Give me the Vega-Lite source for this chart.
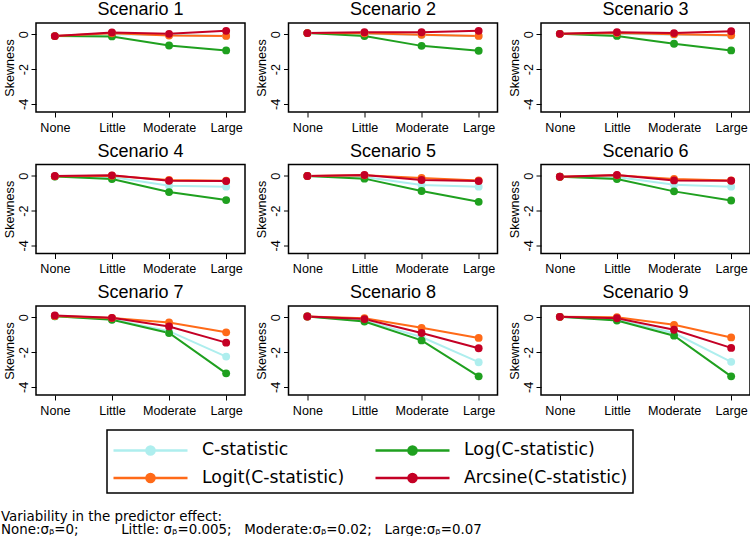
{
  "$schema": "https://vega.github.io/schema/vega-lite/v6.json",
  "padding": {"left": 1, "top": 0, "right": 0, "bottom": 0},
  "background": "white",
  "data": {"values": [
    {"scenario": "Scenario 1", "level": "None", "method": "C-statistic", "value": -0.11},
    {"scenario": "Scenario 1", "level": "Little", "method": "C-statistic", "value": 0.0},
    {"scenario": "Scenario 1", "level": "Moderate", "method": "C-statistic", "value": -0.05},
    {"scenario": "Scenario 1", "level": "Large", "method": "C-statistic", "value": -0.1},
    {"scenario": "Scenario 1", "level": "None", "method": "Log(C-statistic)", "value": -0.11},
    {"scenario": "Scenario 1", "level": "Little", "method": "Log(C-statistic)", "value": -0.13},
    {"scenario": "Scenario 1", "level": "Moderate", "method": "Log(C-statistic)", "value": -0.65},
    {"scenario": "Scenario 1", "level": "Large", "method": "Log(C-statistic)", "value": -0.93},
    {"scenario": "Scenario 1", "level": "None", "method": "Logit(C-statistic)", "value": -0.11},
    {"scenario": "Scenario 1", "level": "Little", "method": "Logit(C-statistic)", "value": 0.05},
    {"scenario": "Scenario 1", "level": "Moderate", "method": "Logit(C-statistic)", "value": -0.08},
    {"scenario": "Scenario 1", "level": "Large", "method": "Logit(C-statistic)", "value": -0.1},
    {"scenario": "Scenario 1", "level": "None", "method": "Arcsine(C-statistic)", "value": -0.11},
    {"scenario": "Scenario 1", "level": "Little", "method": "Arcsine(C-statistic)", "value": 0.1},
    {"scenario": "Scenario 1", "level": "Moderate", "method": "Arcsine(C-statistic)", "value": 0.02},
    {"scenario": "Scenario 1", "level": "Large", "method": "Arcsine(C-statistic)", "value": 0.19},

    {"scenario": "Scenario 2", "level": "None", "method": "C-statistic", "value": 0.06},
    {"scenario": "Scenario 2", "level": "Little", "method": "C-statistic", "value": 0.03},
    {"scenario": "Scenario 2", "level": "Moderate", "method": "C-statistic", "value": -0.05},
    {"scenario": "Scenario 2", "level": "Large", "method": "C-statistic", "value": -0.1},
    {"scenario": "Scenario 2", "level": "None", "method": "Log(C-statistic)", "value": 0.06},
    {"scenario": "Scenario 2", "level": "Little", "method": "Log(C-statistic)", "value": -0.11},
    {"scenario": "Scenario 2", "level": "Moderate", "method": "Log(C-statistic)", "value": -0.67},
    {"scenario": "Scenario 2", "level": "Large", "method": "Log(C-statistic)", "value": -0.95},
    {"scenario": "Scenario 2", "level": "None", "method": "Logit(C-statistic)", "value": 0.06},
    {"scenario": "Scenario 2", "level": "Little", "method": "Logit(C-statistic)", "value": 0.05},
    {"scenario": "Scenario 2", "level": "Moderate", "method": "Logit(C-statistic)", "value": -0.03},
    {"scenario": "Scenario 2", "level": "Large", "method": "Logit(C-statistic)", "value": -0.1},
    {"scenario": "Scenario 2", "level": "None", "method": "Arcsine(C-statistic)", "value": 0.06},
    {"scenario": "Scenario 2", "level": "Little", "method": "Arcsine(C-statistic)", "value": 0.11},
    {"scenario": "Scenario 2", "level": "Moderate", "method": "Arcsine(C-statistic)", "value": 0.11},
    {"scenario": "Scenario 2", "level": "Large", "method": "Arcsine(C-statistic)", "value": 0.19},

    {"scenario": "Scenario 3", "level": "None", "method": "C-statistic", "value": 0.02},
    {"scenario": "Scenario 3", "level": "Little", "method": "C-statistic", "value": 0.03},
    {"scenario": "Scenario 3", "level": "Moderate", "method": "C-statistic", "value": -0.03},
    {"scenario": "Scenario 3", "level": "Large", "method": "C-statistic", "value": -0.08},
    {"scenario": "Scenario 3", "level": "None", "method": "Log(C-statistic)", "value": 0.02},
    {"scenario": "Scenario 3", "level": "Little", "method": "Log(C-statistic)", "value": -0.1},
    {"scenario": "Scenario 3", "level": "Moderate", "method": "Log(C-statistic)", "value": -0.55},
    {"scenario": "Scenario 3", "level": "Large", "method": "Log(C-statistic)", "value": -0.93},
    {"scenario": "Scenario 3", "level": "None", "method": "Logit(C-statistic)", "value": 0.02},
    {"scenario": "Scenario 3", "level": "Little", "method": "Logit(C-statistic)", "value": 0.06},
    {"scenario": "Scenario 3", "level": "Moderate", "method": "Logit(C-statistic)", "value": 0.0},
    {"scenario": "Scenario 3", "level": "Large", "method": "Logit(C-statistic)", "value": -0.06},
    {"scenario": "Scenario 3", "level": "None", "method": "Arcsine(C-statistic)", "value": 0.02},
    {"scenario": "Scenario 3", "level": "Little", "method": "Arcsine(C-statistic)", "value": 0.11},
    {"scenario": "Scenario 3", "level": "Moderate", "method": "Arcsine(C-statistic)", "value": 0.06},
    {"scenario": "Scenario 3", "level": "Large", "method": "Arcsine(C-statistic)", "value": 0.17},

    {"scenario": "Scenario 4", "level": "None", "method": "C-statistic", "value": -0.05},
    {"scenario": "Scenario 4", "level": "Little", "method": "C-statistic", "value": -0.08},
    {"scenario": "Scenario 4", "level": "Moderate", "method": "C-statistic", "value": -0.58},
    {"scenario": "Scenario 4", "level": "Large", "method": "C-statistic", "value": -0.63},
    {"scenario": "Scenario 4", "level": "None", "method": "Log(C-statistic)", "value": -0.05},
    {"scenario": "Scenario 4", "level": "Little", "method": "Log(C-statistic)", "value": -0.19},
    {"scenario": "Scenario 4", "level": "Moderate", "method": "Log(C-statistic)", "value": -0.94},
    {"scenario": "Scenario 4", "level": "Large", "method": "Log(C-statistic)", "value": -1.4},
    {"scenario": "Scenario 4", "level": "None", "method": "Logit(C-statistic)", "value": -0.04},
    {"scenario": "Scenario 4", "level": "Little", "method": "Logit(C-statistic)", "value": 0.0},
    {"scenario": "Scenario 4", "level": "Moderate", "method": "Logit(C-statistic)", "value": -0.25},
    {"scenario": "Scenario 4", "level": "Large", "method": "Logit(C-statistic)", "value": -0.29},
    {"scenario": "Scenario 4", "level": "None", "method": "Arcsine(C-statistic)", "value": -0.02},
    {"scenario": "Scenario 4", "level": "Little", "method": "Arcsine(C-statistic)", "value": 0.02},
    {"scenario": "Scenario 4", "level": "Moderate", "method": "Arcsine(C-statistic)", "value": -0.29},
    {"scenario": "Scenario 4", "level": "Large", "method": "Arcsine(C-statistic)", "value": -0.31},

    {"scenario": "Scenario 5", "level": "None", "method": "C-statistic", "value": -0.02},
    {"scenario": "Scenario 5", "level": "Little", "method": "C-statistic", "value": -0.07},
    {"scenario": "Scenario 5", "level": "Moderate", "method": "C-statistic", "value": -0.54},
    {"scenario": "Scenario 5", "level": "Large", "method": "C-statistic", "value": -0.63},
    {"scenario": "Scenario 5", "level": "None", "method": "Log(C-statistic)", "value": -0.02},
    {"scenario": "Scenario 5", "level": "Little", "method": "Log(C-statistic)", "value": -0.17},
    {"scenario": "Scenario 5", "level": "Moderate", "method": "Log(C-statistic)", "value": -0.88},
    {"scenario": "Scenario 5", "level": "Large", "method": "Log(C-statistic)", "value": -1.5},
    {"scenario": "Scenario 5", "level": "None", "method": "Logit(C-statistic)", "value": -0.02},
    {"scenario": "Scenario 5", "level": "Little", "method": "Logit(C-statistic)", "value": 0.02},
    {"scenario": "Scenario 5", "level": "Moderate", "method": "Logit(C-statistic)", "value": -0.13},
    {"scenario": "Scenario 5", "level": "Large", "method": "Logit(C-statistic)", "value": -0.27},
    {"scenario": "Scenario 5", "level": "None", "method": "Arcsine(C-statistic)", "value": -0.02},
    {"scenario": "Scenario 5", "level": "Little", "method": "Arcsine(C-statistic)", "value": 0.04},
    {"scenario": "Scenario 5", "level": "Moderate", "method": "Arcsine(C-statistic)", "value": -0.25},
    {"scenario": "Scenario 5", "level": "Large", "method": "Arcsine(C-statistic)", "value": -0.31},

    {"scenario": "Scenario 6", "level": "None", "method": "C-statistic", "value": -0.06},
    {"scenario": "Scenario 6", "level": "Little", "method": "C-statistic", "value": -0.07},
    {"scenario": "Scenario 6", "level": "Moderate", "method": "C-statistic", "value": -0.52},
    {"scenario": "Scenario 6", "level": "Large", "method": "C-statistic", "value": -0.63},
    {"scenario": "Scenario 6", "level": "None", "method": "Log(C-statistic)", "value": -0.06},
    {"scenario": "Scenario 6", "level": "Little", "method": "Log(C-statistic)", "value": -0.19},
    {"scenario": "Scenario 6", "level": "Moderate", "method": "Log(C-statistic)", "value": -0.9},
    {"scenario": "Scenario 6", "level": "Large", "method": "Log(C-statistic)", "value": -1.42},
    {"scenario": "Scenario 6", "level": "None", "method": "Logit(C-statistic)", "value": -0.06},
    {"scenario": "Scenario 6", "level": "Little", "method": "Logit(C-statistic)", "value": 0.02},
    {"scenario": "Scenario 6", "level": "Moderate", "method": "Logit(C-statistic)", "value": -0.19},
    {"scenario": "Scenario 6", "level": "Large", "method": "Logit(C-statistic)", "value": -0.27},
    {"scenario": "Scenario 6", "level": "None", "method": "Arcsine(C-statistic)", "value": -0.06},
    {"scenario": "Scenario 6", "level": "Little", "method": "Arcsine(C-statistic)", "value": 0.04},
    {"scenario": "Scenario 6", "level": "Moderate", "method": "Arcsine(C-statistic)", "value": -0.27},
    {"scenario": "Scenario 6", "level": "Large", "method": "Arcsine(C-statistic)", "value": -0.29},

    {"scenario": "Scenario 7", "level": "None", "method": "C-statistic", "value": 0.05},
    {"scenario": "Scenario 7", "level": "Little", "method": "C-statistic", "value": -0.12},
    {"scenario": "Scenario 7", "level": "Moderate", "method": "C-statistic", "value": -0.8},
    {"scenario": "Scenario 7", "level": "Large", "method": "C-statistic", "value": -2.26},
    {"scenario": "Scenario 7", "level": "None", "method": "Log(C-statistic)", "value": 0.05},
    {"scenario": "Scenario 7", "level": "Little", "method": "Log(C-statistic)", "value": -0.15},
    {"scenario": "Scenario 7", "level": "Moderate", "method": "Log(C-statistic)", "value": -0.91},
    {"scenario": "Scenario 7", "level": "Large", "method": "Log(C-statistic)", "value": -3.22},
    {"scenario": "Scenario 7", "level": "None", "method": "Logit(C-statistic)", "value": 0.06},
    {"scenario": "Scenario 7", "level": "Little", "method": "Logit(C-statistic)", "value": -0.05},
    {"scenario": "Scenario 7", "level": "Moderate", "method": "Logit(C-statistic)", "value": -0.3},
    {"scenario": "Scenario 7", "level": "Large", "method": "Logit(C-statistic)", "value": -0.87},
    {"scenario": "Scenario 7", "level": "None", "method": "Arcsine(C-statistic)", "value": 0.1},
    {"scenario": "Scenario 7", "level": "Little", "method": "Arcsine(C-statistic)", "value": -0.04},
    {"scenario": "Scenario 7", "level": "Moderate", "method": "Arcsine(C-statistic)", "value": -0.53},
    {"scenario": "Scenario 7", "level": "Large", "method": "Arcsine(C-statistic)", "value": -1.46},

    {"scenario": "Scenario 8", "level": "None", "method": "C-statistic", "value": 0.04},
    {"scenario": "Scenario 8", "level": "Little", "method": "C-statistic", "value": -0.2},
    {"scenario": "Scenario 8", "level": "Moderate", "method": "C-statistic", "value": -1.14},
    {"scenario": "Scenario 8", "level": "Large", "method": "C-statistic", "value": -2.58},
    {"scenario": "Scenario 8", "level": "None", "method": "Log(C-statistic)", "value": 0.04},
    {"scenario": "Scenario 8", "level": "Little", "method": "Log(C-statistic)", "value": -0.25},
    {"scenario": "Scenario 8", "level": "Moderate", "method": "Log(C-statistic)", "value": -1.33},
    {"scenario": "Scenario 8", "level": "Large", "method": "Log(C-statistic)", "value": -3.39},
    {"scenario": "Scenario 8", "level": "None", "method": "Logit(C-statistic)", "value": 0.04},
    {"scenario": "Scenario 8", "level": "Little", "method": "Logit(C-statistic)", "value": -0.06},
    {"scenario": "Scenario 8", "level": "Moderate", "method": "Logit(C-statistic)", "value": -0.61},
    {"scenario": "Scenario 8", "level": "Large", "method": "Logit(C-statistic)", "value": -1.19},
    {"scenario": "Scenario 8", "level": "None", "method": "Arcsine(C-statistic)", "value": 0.04},
    {"scenario": "Scenario 8", "level": "Little", "method": "Arcsine(C-statistic)", "value": -0.11},
    {"scenario": "Scenario 8", "level": "Moderate", "method": "Arcsine(C-statistic)", "value": -0.91},
    {"scenario": "Scenario 8", "level": "Large", "method": "Arcsine(C-statistic)", "value": -1.78},

    {"scenario": "Scenario 9", "level": "None", "method": "C-statistic", "value": 0.02},
    {"scenario": "Scenario 9", "level": "Little", "method": "C-statistic", "value": -0.15},
    {"scenario": "Scenario 9", "level": "Moderate", "method": "C-statistic", "value": -0.91},
    {"scenario": "Scenario 9", "level": "Large", "method": "C-statistic", "value": -2.56},
    {"scenario": "Scenario 9", "level": "None", "method": "Log(C-statistic)", "value": 0.02},
    {"scenario": "Scenario 9", "level": "Little", "method": "Log(C-statistic)", "value": -0.19},
    {"scenario": "Scenario 9", "level": "Moderate", "method": "Log(C-statistic)", "value": -1.06},
    {"scenario": "Scenario 9", "level": "Large", "method": "Log(C-statistic)", "value": -3.39},
    {"scenario": "Scenario 9", "level": "None", "method": "Logit(C-statistic)", "value": 0.02},
    {"scenario": "Scenario 9", "level": "Little", "method": "Logit(C-statistic)", "value": 0.0},
    {"scenario": "Scenario 9", "level": "Moderate", "method": "Logit(C-statistic)", "value": -0.44},
    {"scenario": "Scenario 9", "level": "Large", "method": "Logit(C-statistic)", "value": -1.16},
    {"scenario": "Scenario 9", "level": "None", "method": "Arcsine(C-statistic)", "value": 0.02},
    {"scenario": "Scenario 9", "level": "Little", "method": "Arcsine(C-statistic)", "value": -0.06},
    {"scenario": "Scenario 9", "level": "Moderate", "method": "Arcsine(C-statistic)", "value": -0.72},
    {"scenario": "Scenario 9", "level": "Large", "method": "Arcsine(C-statistic)", "value": -1.76}
  ]},
  "facet": {
    "field": "scenario", "type": "nominal",
    "header": {"title": null, "labelFont": "Liberation Sans", "labelFontSize": 18, "labelColor": "black", "labelPadding": 4}
  },
  "columns": 3,
  "spacing": {"column": 8.5, "row": 6.5},
  "resolve": {"axis": {"x": "independent", "y": "independent"}},
  "spec": {
    "width": 209,
    "height": 89,
    "encoding": {
      "x": {
        "field": "level", "type": "ordinal",
        "scale": {"type": "point", "domain": ["None", "Little", "Moderate", "Large"], "padding": 0.33},
        "axis": {"title": null, "labelAngle": 0, "labelPadding": 4}
      },
      "y": {
        "field": "value", "type": "quantitative",
        "scale": {"domain": [-4.46, 0.64], "nice": false, "zero": false},
        "axis": {"title": "Skewness", "values": [0, -2, -4], "labelExpr": "'' + datum.value", "labelAngle": -90, "labelPadding": 1, "titlePadding": 1, "titleFont": "Liberation Sans", "titleFontSize": 12.6, "titleFontWeight": "normal", "titleColor": "black"}
      },
      "color": {
        "field": "method", "type": "nominal",
        "scale": {
          "domain": ["C-statistic", "Logit(C-statistic)", "Log(C-statistic)", "Arcsine(C-statistic)"],
          "range": ["#AEEEEE", "#FF6A18", "#1FA01F", "#C40025"]
        },
        "legend": {
          "title": null,
          "orient": "none",
          "legendX": 71,
          "legendY": 407,
          "columns": 2,
          "columnPadding": 25,
          "rowPadding": 3,
          "padding": 5,
          "labelFont": "DejaVu Sans",
          "labelFontSize": 17.3,
          "labelColor": "black",
          "labelLimit": 0,
          "labelOffset": 36.5,
          "symbolOffset": 23.5,
          "symbolType": "M-2.741,0H2.741M0.3,0A0.3,0.3,0,1,1,-0.3,0A0.3,0.3,0,1,1,0.3,0Z",
          "symbolSize": 729,
          "symbolStrokeWidth": 2.5,
          "strokeColor": "black",
          "encode": {
            "legend": {"update": {"strokeWidth": {"value": 1.5}}},
            "symbols": {"update": {"fill": {"scale": "color", "field": "value"}, "stroke": {"scale": "color", "field": "value"}, "strokeWidth": {"value": 2.5}, "opacity": {"value": 1}}}
          }
        }
      }
    },
    "layer": [
      {"mark": {"type": "line", "strokeWidth": 2}},
      {"mark": {"type": "circle", "size": 62, "opacity": 1}}
    ]
  },
  "title": {
    "text": "Variability in the predictor effect:",
    "subtitle": "None:σᵦ=0;\u00a0\u00a0\u00a0\u00a0\u00a0\u00a0\u00a0\u00a0\u00a0\u00a0Little: σᵦ=0.005;\u00a0\u00a0\u00a0Moderate:σᵦ=0.02;\u00a0\u00a0\u00a0Large:σᵦ=0.07",
    "orient": "bottom",
    "anchor": "start",
    "frame": "group",
    "offset": 16,
    "dx": -35,
    "font": "DejaVu Sans",
    "fontSize": 13.4,
    "fontWeight": "normal",
    "color": "black",
    "subtitleFont": "DejaVu Sans",
    "subtitleFontSize": 13.4,
    "subtitleColor": "black",
    "subtitlePadding": 0
  },
  "config": {
    "view": {"stroke": "black", "strokeWidth": 1.5},
    "axis": {
      "domain": false, "grid": false,
      "tickColor": "black", "tickSize": 5, "tickWidth": 1,
      "labelFont": "Liberation Sans", "labelFontSize": 12.6, "labelColor": "black"
    }
  }
}
